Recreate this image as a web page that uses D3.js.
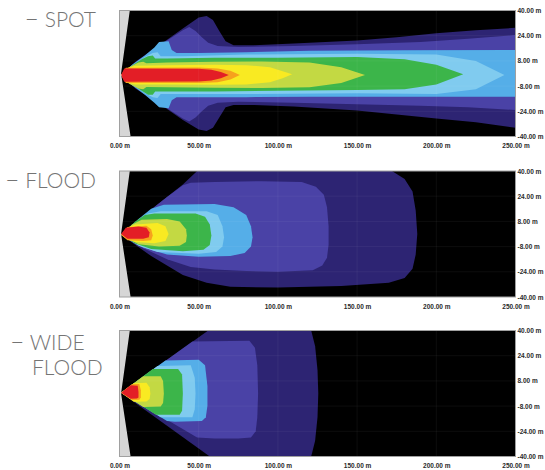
<!DOCTYPE html>
<html>
<head>
<meta charset="utf-8">
<script src="https://cdn.jsdelivr.net/npm/d3@7"></script>
<style>
  html, body { margin: 0; padding: 0; background: #ffffff; }
  svg { display: block; }
</style>
</head>
<body>
<svg id="chart" width="545" height="470"></svg>
<script>
// ---------------- DATA ----------------
// distance ahead of the lamp (m) and lateral offset (m)
const xTicks = [0, 50, 100, 150, 200, 250];
const xTickLabels = ["0.00 m", "50.00 m", "100.00 m", "150.00 m", "200.00 m", "250.00 m"];
const yTicks = [40, 24, 8, -8, -24, -40];
const yTickLabels = ["40.00 m", "24.00 m", "8.00 m", "-8.00 m", "-24.00 m", "-40.00 m"];

const panelTitles = [["SPOT"], ["FLOOD"], ["WIDE", "FLOOD"]];

// illuminance bands, lowest to highest
const levels = ["L1", "L2", "L3", "L4", "L5", "L6", "L7", "L8", "L9"];

// each iso-line as a closed outline of [distance m, lateral m]
const spotContours = [
  [[1,-1],[10,7.5],[20,14.5],[30,21.5],[40,28.5],[50,35.5],[55,36.5],[59,34],[63,27],[67,20.5],[72,18],[85,18],[110,19],[150,21],[175,23],[200,25.5],[225,27.5],[250,29],
   [250,-34.5],[225,-31],[200,-28.5],[175,-26],[150,-23.5],[110,-21],[85,-20],[72,-20],[67,-21.5],[63,-28],[59,-34.5],[55,-36.5],[50,-35.5],[40,-29.5],[30,-22.5],[20,-16],[10,-9.5]],
  [[1,-1],[10,7],[20,14],[30,21],[40,27.5],[44,29.5],[48,27],[52,23],[56,19.5],[62,17.5],[75,16.8],[110,17.5],[150,18.5],[190,20],[220,22],[250,24.4],
   [250,-23.2],[220,-21.5],[190,-20.5],[150,-19.5],[110,-18.5],[75,-18],[62,-18.5],[56,-20.5],[52,-24],[48,-28],[44,-30.5],[40,-28.5],[30,-22],[20,-15],[10,-8.5]],
  [[1,-1],[8,5.5],[16,11.5],[22,16.5],[25,20],[31,20.5],[33,15],[36,13],[50,13],[80,13.5],[120,14.5],[180,14.8],[250,15],
   [250,-14.7],[180,-14.7],[120,-14.7],[80,-15],[50,-15],[36,-15],[33,-17],[31,-22],[25,-21.5],[22,-18.5],[16,-13.5],[8,-7.5]],
  [[1,-1],[8,5],[16,10.5],[21,13],[24,13.5],[26,11],[40,11],[80,12],[150,12.6],[200,12],[225,8],[243,-1],
   [225,-10],[200,-13],[150,-12.6],[80,-13],[40,-13],[26,-13],[24,-15.5],[21,-15],[16,-12.5],[8,-7]],
  [[1,-1],[7,4.5],[14,9],[18,11],[21,11.5],[22.5,9.5],[30,9.5],[60,10],[100,10],[150,10.5],[180,9],[200,5.5],[217,-0.5],
   [200,-7],[180,-10],[150,-10.5],[100,-11],[60,-11.5],[30,-11.5],[22.5,-11.5],[21,-13.5],[18,-13.5],[14,-11],[7,-6.5]],
  [[1,-1],[6,4],[12,7],[15,7.5],[17,6.5],[30,7],[60,7.5],[90,7.6],[120,7],[140,4],[155,-1],
   [140,-6],[120,-8.8],[90,-9.2],[60,-9],[30,-8.8],[17,-8.5],[15,-10],[12,-9.5],[6,-6.5]],
  [[1,-1],[5,3.5],[10,5],[30,5.2],[60,5.5],[80,5.3],[95,4],[103,1.5],[109,-0.5],
   [103,-3],[95,-5.5],[80,-7],[60,-7.2],[30,-7],[10,-7],[5,-5.8]],
  [[1,-1],[4,3.6],[50,3.8],[62,3.2],[70,1.8],[76,-1],
   [70,-3.8],[62,-5.6],[50,-6],[4,-6]],
  [[1,-1],[3,3.2],[50,3],[58,2.4],[64,1],[69,-1],
   [64,-3],[58,-4.4],[50,-5],[3,-5.3]]
];

const floodContours = [
  [[1,-0.5],[10,7.5],[20,15.5],[30,23.5],[40,31.5],[49,40],[172,40],[180,35],[185,27],[187,15],[188,0],[187,-13],[185,-22],[180,-28],[170,-31],[140,-33],[100,-34],[70,-33.5],[55,-31],[40,-26],[20,-14]],
  [[1,-0.5],[10,7.5],[20,15.5],[30,23.5],[40,31],[45,32.5],[60,33],[90,33.5],[115,33],[124,30],[129,25],[131,17],[132,5],[132,-7],[131,-15],[128,-20],[122,-23],[100,-24],[80,-23.5],[60,-22.5],[45,-21],[30,-16],[15,-9]],
  [[1,-0.5],[12,9.5],[20,16],[28,18.5],[60,19],[72,17],[80,12],[83,5],[84,-2],[83,-8],[79,-12],[70,-14],[50,-14.5],[30,-13],[15,-8.5]],
  [[1,-0.5],[12,9],[18,13],[26,14.5],[55,14.5],[62,12],[65,5],[66,-2],[65,-8],[61,-11.5],[50,-12.5],[24,-11.5],[12,-7.5]],
  [[1,-0.5],[10,8],[16,12],[22,13],[48,13],[54,11],[57,6],[58,-1],[57,-7],[53,-10],[40,-11],[20,-9.5],[10,-6]],
  [[1,-0.5],[8,6],[14,9],[30,9.5],[38,8],[42,3],[42.5,-1],[42,-5],[38,-7.5],[25,-8],[12,-6.5]],
  [[1,-0.5],[6,4.5],[10,6],[24,7],[29,5],[31,0],[29,-4.5],[22,-5.8],[10,-5],[5,-3.5]],
  [[1,-0.5],[5,4.5],[17,5.2],[20,3],[21,-1],[20,-4],[15,-4.5],[5,-4]],
  [[1,0],[4,4],[12,4.8],[17,4],[19,1],[18.5,-2],[15,-3],[5,-3]]
];

const wideContours = [
  [[1,0.5],[56,40],[121,40],[123.5,30],[125,15],[125.5,0],[125,-15],[123.5,-30],[121,-40],[57,-40]],
  [[1,0.5],[46,33],[82,33.5],[85.5,29],[87,18],[87.5,0],[87,-15],[86,-24],[83,-28],[75,-28.5],[60,-28.5],[49,-28]],
  [[1,0.5],[29,21],[50,21.5],[54,18],[55.5,5],[55.5,-8],[54.5,-15],[52,-17.5],[35,-18],[30,-17.5]],
  [[1,0.5],[24,17.5],[45,18],[47.5,10],[48,0],[47.5,-10],[46,-15],[26,-15]],
  [[1,0.5],[21,15.5],[37,15.5],[39.5,12],[40,0],[39.5,-11],[38,-13.5],[23,-13.5]],
  [[1,0.5],[15,11],[26,11],[27.5,8],[28,0],[27.5,-6],[26,-8.3],[15,-8.5]],
  [[1,0.5],[9,6.5],[17,6.8],[19,4],[19.5,0],[19,-3.5],[17,-5],[9,-5.3]],
  [[1,0.5],[8,6],[12.5,6],[13.5,2],[13.5,-2.5],[12.5,-4],[8,-4.2]],
  [[1,0.5],[7,5.2],[11.5,5],[12,1],[12,-2.5],[11,-3.2],[7,-3.4]]
];

// light-grey area at the lamp side, [distance m, lateral m]
const lampEdge = [[0,40],[6.5,40],[1,0],[7,-40],[0,-40]];

// ---------------- STYLE / LAYOUT ----------------
const levelColors = ["#2d2473", "#4a42a6", "#55aee8", "#80cbef", "#3cb54a", "#c3d943", "#f9ea22", "#f6a21d", "#e31e26"];
const plotLeft = 119.5, plotRight = 515.5, plotH = 126;
const plotTops = [10.5, 171, 330.5];
const allContours = [spotContours, floodContours, wideContours];

const svg = d3.select("#chart");
const x = d3.scaleLinear().domain([0, 250]).range([plotLeft, plotRight]);

allContours.forEach((contours, p) => {
  const top = plotTops[p], bottom = top + plotH;
  const y = d3.scaleLinear().domain([-40, 40]).range([bottom, top]);
  const g = svg.append("g");

  const clipId = "clip" + p;
  svg.append("clipPath").attr("id", clipId)
    .append("rect").attr("x", plotLeft).attr("y", top)
    .attr("width", plotRight - plotLeft).attr("height", plotH);

  const plot = g.append("g").attr("clip-path", `url(#${clipId})`);
  plot.append("rect").attr("x", plotLeft).attr("y", top)
    .attr("width", plotRight - plotLeft).attr("height", plotH).attr("fill", "#000");

  const line = d3.line().x(d => x(d[0])).y(d => y(d[1])).curve(d3.curveLinearClosed);
  plot.selectAll("path.band").data(contours).join("path")
    .attr("class", "band")
    .attr("d", line)
    .attr("fill", (d, i) => levelColors[i]);

  // faint grid
  plot.selectAll("line.gy").data(yTicks).join("line")
    .attr("x1", plotLeft).attr("x2", plotRight)
    .attr("y1", d => y(d)).attr("y2", d => y(d))
    .attr("stroke", "#fff").attr("stroke-opacity", 0.05).attr("stroke-width", 1);
  plot.selectAll("line.gx").data(xTicks).join("line")
    .attr("y1", top).attr("y2", bottom)
    .attr("x1", d => x(d)).attr("x2", d => x(d))
    .attr("stroke", "#fff").attr("stroke-opacity", 0.05).attr("stroke-width", 1);

  // lamp side grey wedge
  plot.append("path").datum(lampEdge)
    .attr("d", d3.line().x(d => x(d[0])).y(d => y(d[1])).curve(d3.curveLinearClosed))
    .attr("fill", "#d6d6d6");

  // frame
  g.append("rect").attr("x", plotLeft).attr("y", top)
    .attr("width", plotRight - plotLeft).attr("height", plotH)
    .attr("fill", "none").attr("stroke", "#a0a0a0").attr("stroke-width", 1);

  // axes
  const xAxis = d3.axisBottom(x).tickValues(xTicks).tickSize(0).tickPadding(7)
    .tickFormat((d, i) => xTickLabels[i]);
  const gx = g.append("g").attr("transform", `translate(0,${bottom})`).call(xAxis);
  gx.select(".domain").remove();
  gx.selectAll("text").attr("font-family", "Liberation Sans, Arial, sans-serif")
    .attr("font-size", 6.5).attr("font-weight", "bold").attr("fill", "#2a2a2a");

  const yAxis = d3.axisRight(y).tickValues(yTicks).tickSize(0).tickPadding(2)
    .tickFormat((d, i) => yTickLabels[i]);
  const gy = g.append("g").attr("transform", `translate(${plotRight},0)`).call(yAxis);
  gy.select(".domain").remove();
  gy.selectAll("text").attr("font-family", "Liberation Sans, Arial, sans-serif")
    .attr("font-size", 6.5).attr("font-weight", "bold").attr("fill", "#2a2a2a");
});

// titles: a long dash followed by the lamp name
const titleFont = "Lato, 'Open Sans', sans-serif";
function title(xPos, yPos, anchor, word, withDash) {
  const t = svg.append("text").attr("x", xPos).attr("y", yPos).attr("text-anchor", anchor)
    .attr("font-family", titleFont).attr("font-weight", 300).attr("font-size", 21)
    .attr("fill", "#747474");
  if (withDash) {
    t.append("tspan").attr("font-size", 25).text("–");
    t.append("tspan").text("\u00a0" + word);
  } else {
    t.append("tspan").text(word);
  }
}
title(96, 27.3, "end", panelTitles[0][0], true);
title(96, 188, "end", panelTitles[1][0], true);
title(10, 350, "start", panelTitles[2][0], true);
title(32, 375, "start", panelTitles[2][1], false);
</script>
</body>
</html>
